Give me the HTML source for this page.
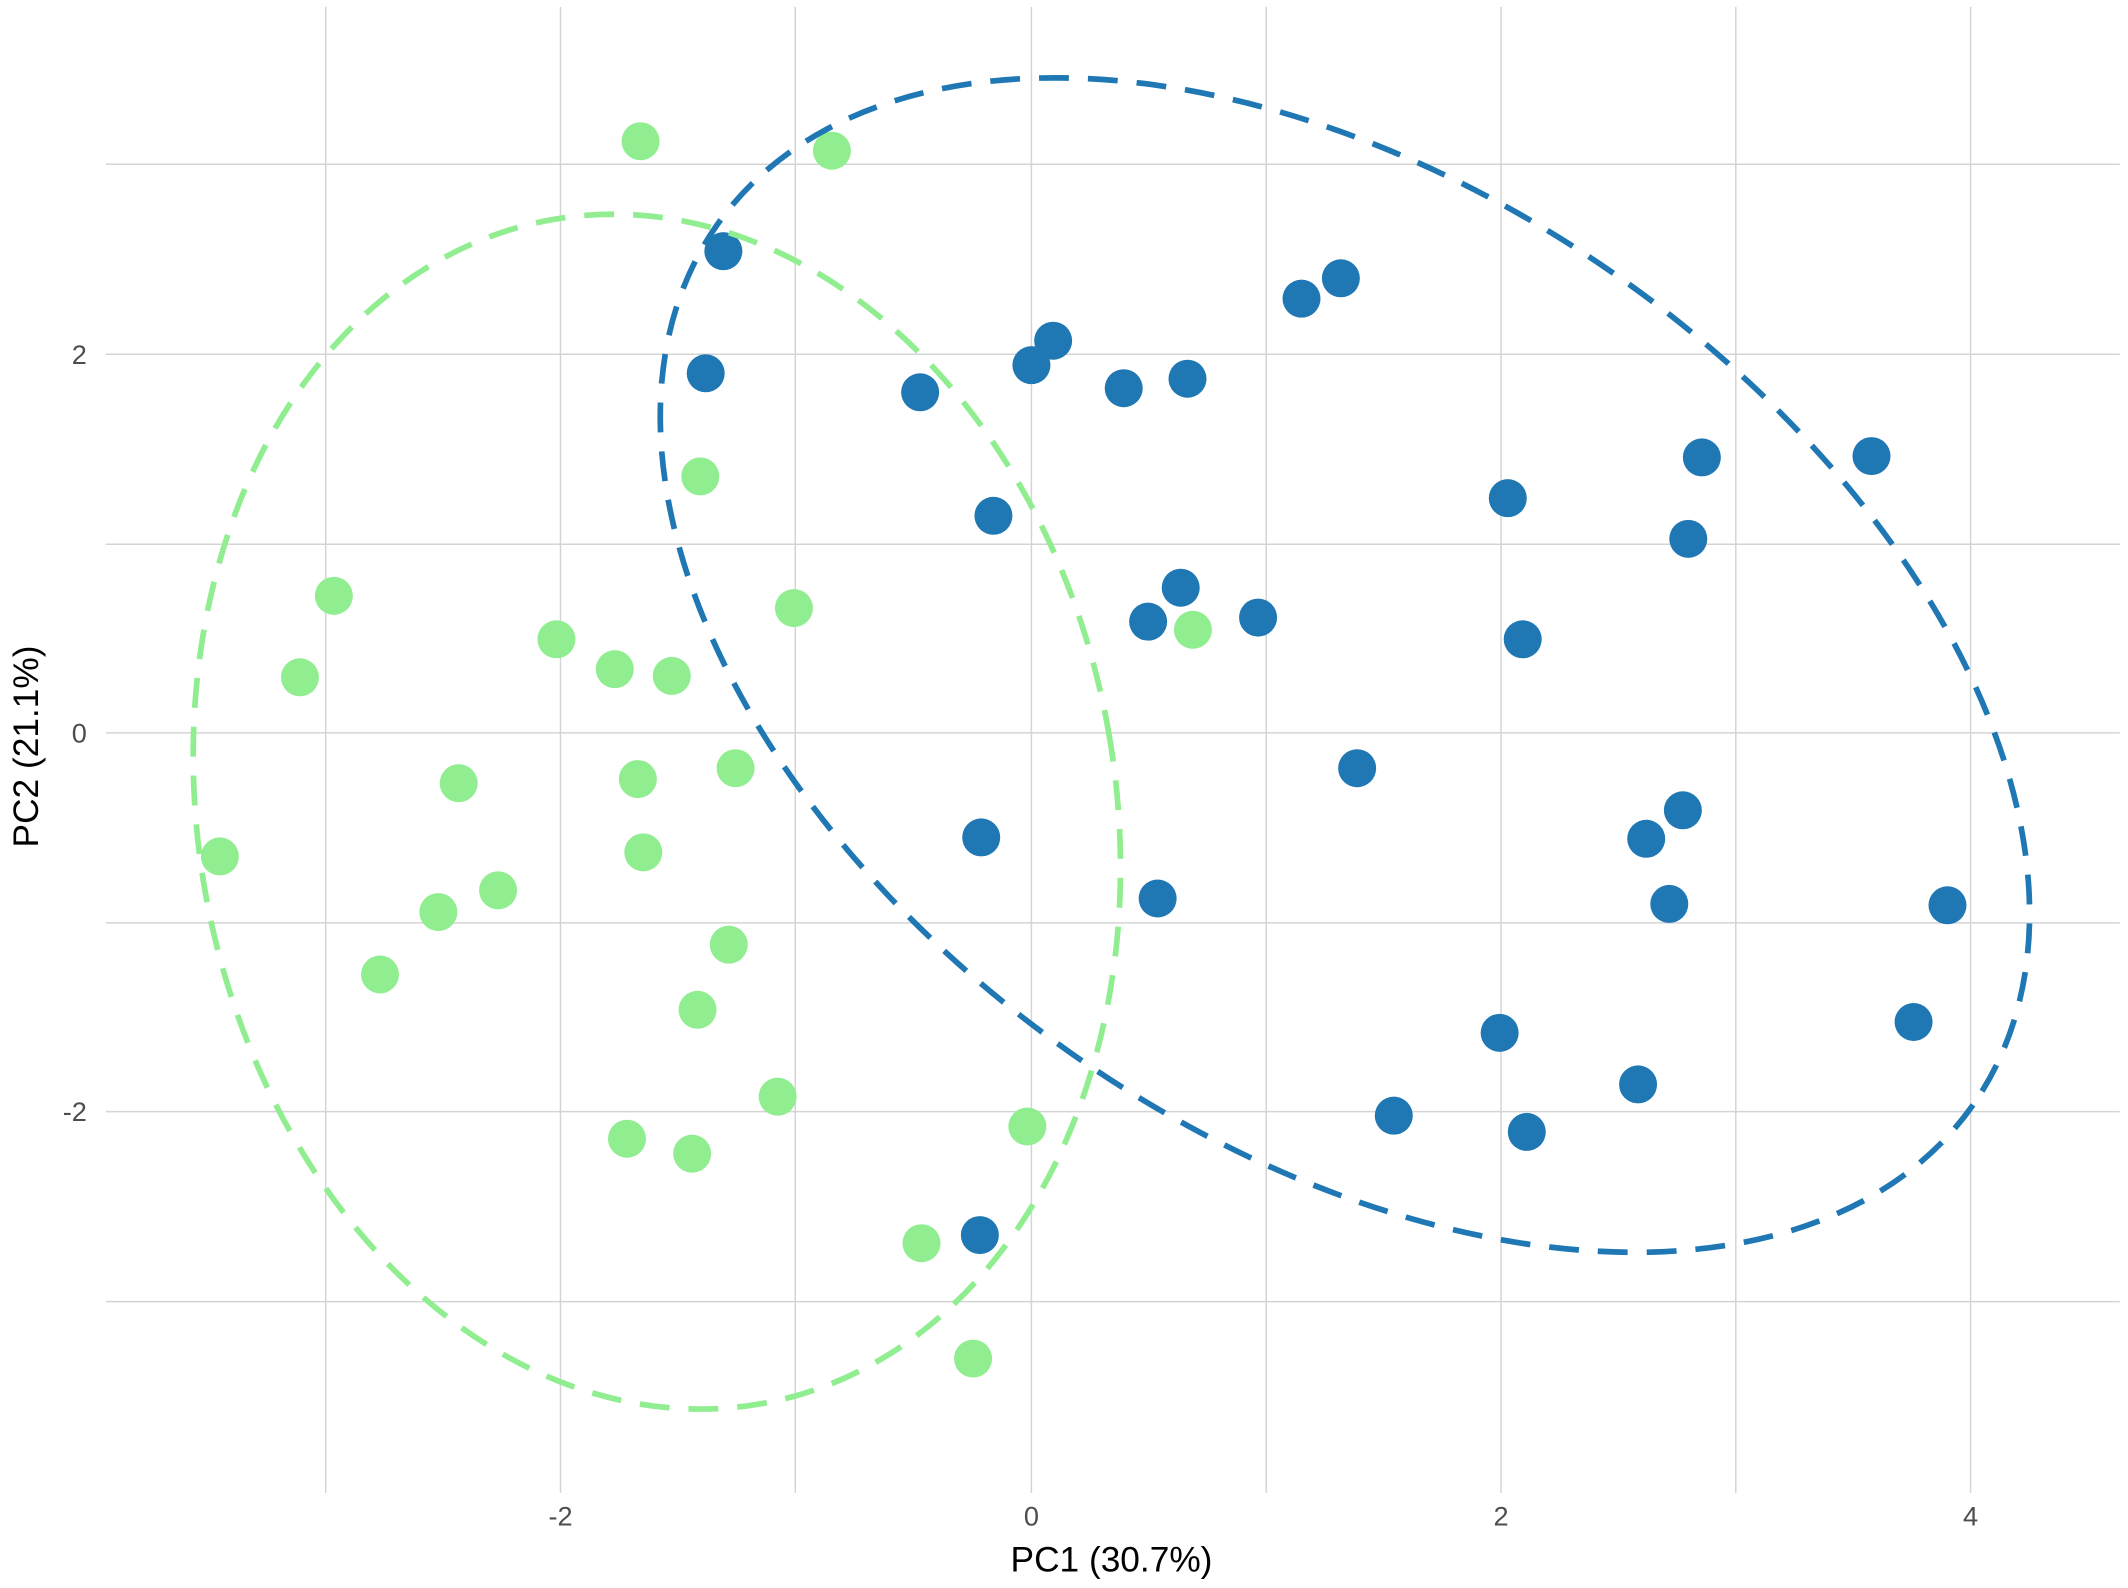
<!DOCTYPE html>
<html><head><meta charset="utf-8"><style>
html,body{margin:0;padding:0;background:#fff;}
svg{display:block;}
text{font-family:"Liberation Sans",sans-serif;}
</style></head><body>
<svg width="2128" height="1588" viewBox="0 0 1568 1170" xmlns="http://www.w3.org/2000/svg">
<rect width="1568" height="1170" fill="#fff"/>
<g stroke="#d4d4d4" stroke-width="1.1">
<line x1="78" x2="1562" y1="121" y2="121"/>
<line x1="78" x2="1562" y1="261" y2="261"/>
<line x1="78" x2="1562" y1="401" y2="401"/>
<line x1="78" x2="1562" y1="540" y2="540"/>
<line x1="78" x2="1562" y1="680" y2="680"/>
<line x1="78" x2="1562" y1="819" y2="819"/>
<line x1="78" x2="1562" y1="959" y2="959"/>
<line y1="5" y2="1100" x1="240" x2="240"/>
<line y1="5" y2="1100" x1="413" x2="413"/>
<line y1="5" y2="1100" x1="586" x2="586"/>
<line y1="5" y2="1100" x1="760" x2="760"/>
<line y1="5" y2="1100" x1="933" x2="933"/>
<line y1="5" y2="1100" x1="1106" x2="1106"/>
<line y1="5" y2="1100" x1="1279" x2="1279"/>
<line y1="5" y2="1100" x1="1452" x2="1452"/>
</g>
<g fill="#90EE90">
<circle cx="472" cy="104" r="14"/><circle cx="613" cy="111" r="14"/><circle cx="516" cy="351" r="14"/><circle cx="246" cy="439" r="14"/><circle cx="585" cy="448" r="14"/><circle cx="221" cy="499" r="14"/><circle cx="410" cy="471" r="14"/><circle cx="453" cy="493" r="14"/><circle cx="495" cy="498" r="14"/><circle cx="879" cy="464" r="14"/><circle cx="338" cy="577" r="14"/><circle cx="470" cy="574" r="14"/><circle cx="542" cy="566" r="14"/><circle cx="162" cy="631" r="14"/><circle cx="474" cy="628" r="14"/><circle cx="367" cy="656" r="14"/><circle cx="323" cy="672" r="14"/><circle cx="280" cy="718" r="14"/><circle cx="537" cy="696" r="14"/><circle cx="514" cy="744" r="14"/><circle cx="573" cy="808" r="14"/><circle cx="462" cy="839" r="14"/><circle cx="510" cy="850" r="14"/><circle cx="757" cy="830" r="14"/><circle cx="679" cy="916" r="14"/><circle cx="717" cy="1001" r="14"/>
</g>
<g fill="#1F78B4">
<circle cx="533" cy="185" r="14"/><circle cx="520" cy="275" r="14"/><circle cx="678" cy="289" r="14"/><circle cx="760" cy="269" r="14"/><circle cx="776" cy="251" r="14"/><circle cx="828" cy="286" r="14"/><circle cx="875" cy="279" r="14"/><circle cx="959" cy="220" r="14"/><circle cx="988" cy="205" r="14"/><circle cx="732" cy="380" r="14"/><circle cx="1111" cy="367" r="14"/><circle cx="1254" cy="337" r="14"/><circle cx="1379" cy="336" r="14"/><circle cx="1244" cy="397" r="14"/><circle cx="870" cy="433" r="14"/><circle cx="846" cy="458" r="14"/><circle cx="927" cy="455" r="14"/><circle cx="1122" cy="471" r="14"/><circle cx="1000" cy="566" r="14"/><circle cx="723" cy="617" r="14"/><circle cx="1213" cy="618" r="14"/><circle cx="1240" cy="597" r="14"/><circle cx="853" cy="662" r="14"/><circle cx="1230" cy="666" r="14"/><circle cx="1435" cy="667" r="14"/><circle cx="1105" cy="761" r="14"/><circle cx="1410" cy="753" r="14"/><circle cx="1207" cy="799" r="14"/><circle cx="1027" cy="822" r="14"/><circle cx="1125" cy="834" r="14"/><circle cx="722" cy="910" r="14"/>
</g>
<g fill="none" stroke-width="4.2" stroke-dasharray="22 14">
<ellipse cx="484" cy="598" rx="338" ry="443" transform="rotate(-10 484 598)" stroke="#90EE90"/>
<ellipse cx="991" cy="490" rx="565" ry="350" transform="rotate(35 991 490)" stroke="#1F78B4"/>
</g>
<g fill="#4d4d4d" font-size="20" text-anchor="middle">
<text x="413" y="1124">-2</text><text x="760" y="1124">0</text><text x="1106" y="1124">2</text><text x="1452" y="1124">4</text>
</g>
<g fill="#4d4d4d" font-size="20" text-anchor="end">
<text x="64" y="268">2</text><text x="64" y="547">0</text><text x="64" y="826">-2</text>
</g>
<text x="819" y="1158" font-size="26" text-anchor="middle" fill="#000">PC1 (30.7%)</text>
<text transform="translate(28 550) rotate(-90)" font-size="26" text-anchor="middle" fill="#000">PC2 (21.1%)</text>
</svg>
</body></html>
